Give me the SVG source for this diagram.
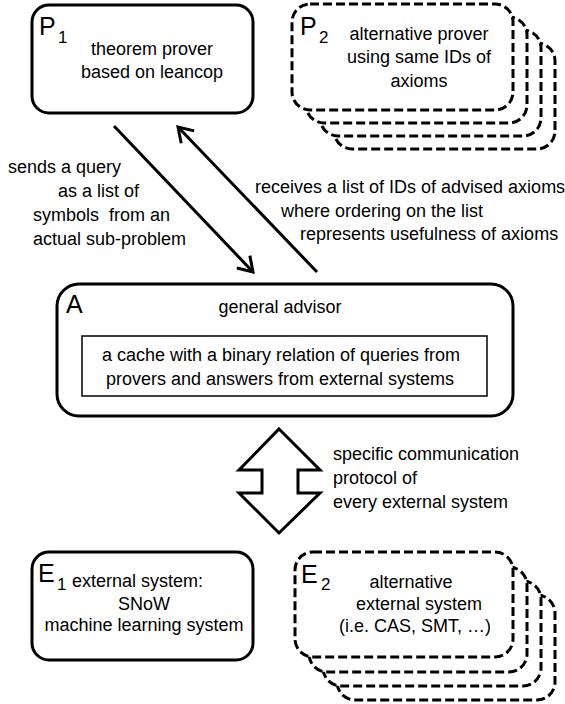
<svg xmlns="http://www.w3.org/2000/svg" width="565" height="704" viewBox="0 0 565 704">
<style>
text{font-family:"Liberation Sans",Arial,sans-serif;fill:#000;white-space:pre}
.t{font-size:18px}
.c{text-anchor:middle}
.big{font-size:25px}
.sub{font-size:17px}
.box{fill:#fff;stroke:#000;stroke-width:3}
.dash{fill:#fff;stroke:#000;stroke-width:3;stroke-dasharray:9 4}
.ln{stroke:#000;stroke-width:3;fill:none}
</style>
<defs>
<marker id="ah" markerUnits="userSpaceOnUse" markerWidth="22" markerHeight="22" refX="17" refY="11" orient="auto">
<path d="M3,2 L17,11 L3,20" fill="none" stroke="#000" stroke-width="3"/>
</marker>
</defs>
<g id="P1">
<rect class="box" x="32" y="5" width="221" height="108" rx="17"/>
<text class="big" x="39" y="35">P</text><text class="sub" x="58" y="43">1</text>
<text class="t c" x="152" y="55">theorem prover</text>
<text class="t c" x="152" y="78">based on leancop</text>
</g>
<g id="P2">
<rect class="dash" x="334" y="43" width="221" height="106" rx="18"/>
<rect class="dash" x="320" y="30" width="221" height="106" rx="18"/>
<rect class="dash" x="306" y="17" width="221" height="106" rx="18"/>
<rect class="dash" x="292" y="4" width="221" height="106" rx="18"/>
<text class="big" x="300" y="35">P</text><text class="sub" x="319" y="43">2</text>
<text class="t c" x="419" y="40">alternative prover</text>
<text class="t c" x="419" y="63">using same IDs of</text>
<text class="t c" x="419" y="87">axioms</text>
</g>
<g id="A">
<rect class="box" x="57" y="284" width="456" height="132" rx="22"/>
<text class="big" x="66" y="313">A</text>
<text class="t c" x="280" y="313">general advisor</text>
<rect x="82" y="336" width="405" height="60" fill="#fff" stroke="#000" stroke-width="1.5"/>
<text class="t c" x="281" y="361">a cache with a binary relation of queries from</text>
<text class="t c" x="280" y="385">provers and answers from external systems</text>
</g>
<g id="E1">
<rect class="box" x="32" y="552" width="221" height="108" rx="17"/>
<text class="big" x="38" y="582">E</text><text class="sub" x="57" y="590">1</text>
<text class="t" x="72" y="587">external system:</text>
<text class="t c" x="144" y="610">SNoW</text>
<text class="t c" x="144" y="631">machine learning system</text>
</g>
<g id="E2">
<rect class="dash" x="337" y="595" width="218" height="105" rx="18"/>
<rect class="dash" x="323" y="581" width="218" height="105" rx="18"/>
<rect class="dash" x="309" y="567" width="218" height="105" rx="18"/>
<rect class="dash" x="295" y="552" width="218" height="105" rx="18"/>
<text class="big" x="301" y="583">E</text><text class="sub" x="321" y="590">2</text>
<text class="t c" x="411" y="588">alternative</text>
<text class="t c" x="419" y="610">external system</text>
<text class="t c" x="415" y="632">(i.e. CAS, SMT, …)</text>
</g>
<g id="connectors">
<line class="ln" x1="114" y1="126" x2="253" y2="272" marker-end="url(#ah)"/>
<line class="ln" x1="317" y1="272" x2="178" y2="127" marker-end="url(#ah)"/>
<path class="ln" stroke-linejoin="miter" d="M279,429 L320,470 L298,470 L298,493 L320,493 L279,533 L239,493 L262,493 L262,470 L239,470 Z" style="fill:#fff"/>
</g>
<g id="labels">
<text class="t" x="8" y="173">sends a query</text>
<text class="t" x="58" y="197">as a list of</text>
<text class="t" x="33" y="221">symbols  from an</text>
<text class="t" x="33" y="245">actual sub-problem</text>
<text class="t" x="255" y="193">receives a list of IDs of advised axioms</text>
<text class="t" x="281" y="217">where ordering on the list</text>
<text class="t" x="300" y="240">represents usefulness of axioms</text>
<text class="t" x="333" y="460">specific communication</text>
<text class="t" x="333" y="484">protocol of</text>
<text class="t" x="333" y="508">every external system</text>
</g>
</svg>
